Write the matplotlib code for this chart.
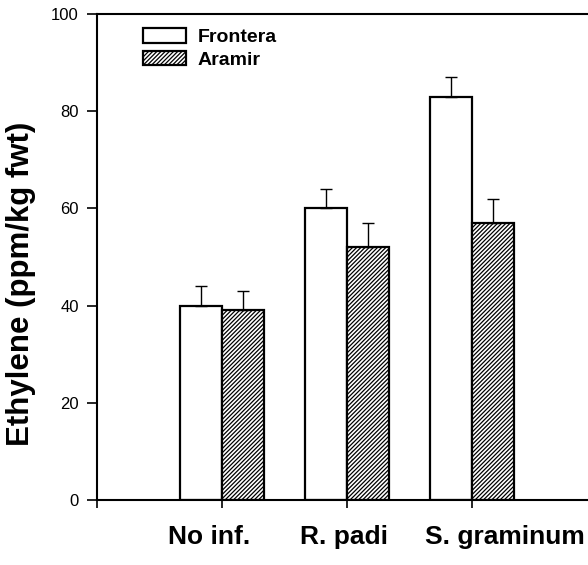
import matplotlib
matplotlib.use("Agg")
import matplotlib.pyplot as plt
import numpy as np

# Ethylene production by wheat cultivar and aphid infestation
categories = ["No inf.", "R. padi", "S. graminum"]
frontera = [40, 60, 83]
frontera_err = [4, 4, 4]
aramir = [39, 52, 57]
aramir_err = [4, 5, 5]
y_ticks = [0, 20, 40, 60, 80, 100]

plt.rcParams["font.family"] = ["Liberation Sans", "DejaVu Sans"]
plt.rcParams["hatch.linewidth"] = 0.9

W, H, DPI = 588, 565, 100
fig = plt.figure(figsize=(W / DPI, H / DPI), dpi=DPI)
# axis spans x = 0..4 over 500 px; the right part runs past the figure edge
ax = fig.add_axes([97 / W, (H - 500) / H, 500 / W, 486 / H])

x = np.arange(1, len(categories) + 1)
w = 0.336

ax.bar(x - w / 2, frontera, width=w, color="white", edgecolor="black",
       linewidth=1.6, label="Frontera", zorder=2)
ax.bar(x + w / 2, aramir, width=w, color="white", edgecolor="black",
       linewidth=1.6, hatch="////////", label="Aramir", zorder=2)

zeros = [0] * len(categories)
ax.errorbar(x - w / 2, frontera, yerr=[zeros, frontera_err], fmt="none",
            ecolor="black", elinewidth=1.0, capsize=4.3, capthick=1.0, zorder=3)
ax.errorbar(x + w / 2, aramir, yerr=[zeros, aramir_err], fmt="none",
            ecolor="black", elinewidth=1.0, capsize=4.3, capthick=1.0, zorder=3)

ax.set_xlim(0, 4)
ax.set_ylim(0, 100)
ax.set_yticks(y_ticks)
ax.set_yticklabels([str(v) for v in y_ticks], fontsize=12)
ax.set_xticks([0, 1, 2, 3])
ax.set_xticklabels([])
ax.tick_params(axis="y", direction="out", length=7, width=1.2, pad=6)
ax.tick_params(axis="x", direction="out", length=6, width=1.2)

for s in ax.spines.values():
    s.set_linewidth(1.5)

# category names sit below the axis
label_x = [0.9, 1.98, 3.26]
for lx, name in zip(label_x, categories):
    ax.text(lx, -7.6, name, ha="center", va="center", fontsize=19,
            fontweight="bold", transform=ax.transData, clip_on=False)

ax.set_ylabel("Ethylene (ppm/kg fwt)", fontsize=22.5, fontweight="bold")
ax.yaxis.set_label_coords(-0.122, 0.445)

leg = ax.legend(loc="upper left", bbox_to_anchor=(0.092, 0.971), frameon=False,
                prop={"weight": "bold", "size": 14},
                handlelength=2.2, handleheight=0.77, handletextpad=0.6,
                labelspacing=0.25, borderpad=0, borderaxespad=0)

fig.savefig("out.png", dpi=DPI)
